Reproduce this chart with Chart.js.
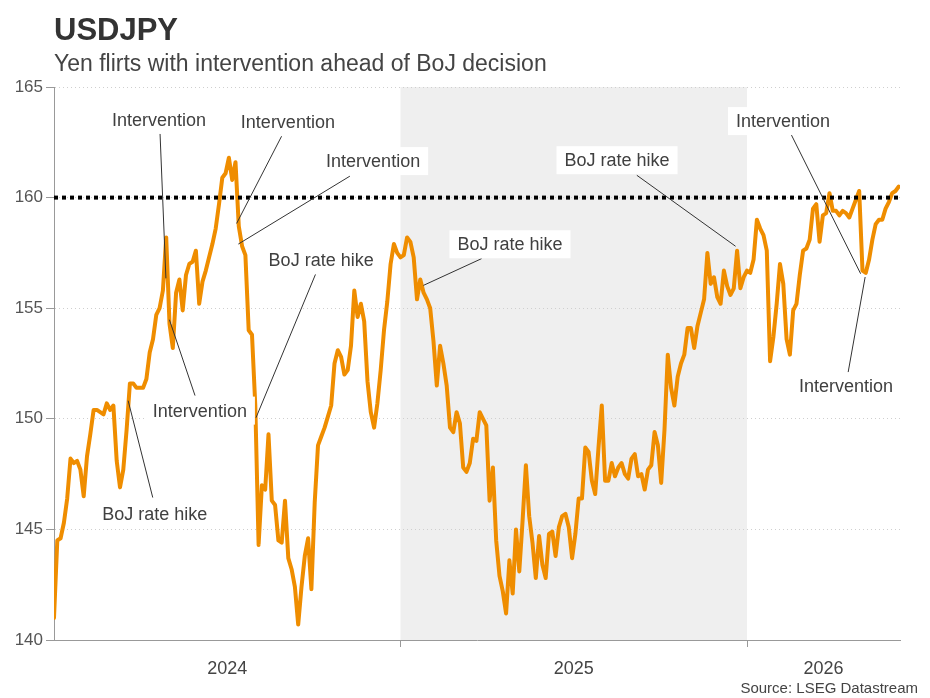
<!DOCTYPE html>
<html><head><meta charset="utf-8">
<script src="https://cdn.jsdelivr.net/npm/chart.js@4/dist/chart.umd.min.js"></script>
<style>html,body{margin:0;padding:0;background:#fff}#wrap{width:930px;height:698px;position:relative}</style>
</head><body><div id="wrap"><canvas id="c" width="930" height="698"></canvas></div>
<script>
const titleText = 'USDJPY';
const subtitleText = 'Yen flirts with intervention ahead of BoJ decision';
const sourceText = 'Source: LSEG Datastream';

const startYear = 2024;
const pointsPerYear = 105;
const usdjpy = [
 141.0,144.5,144.6,145.3,146.4,148.2,148.0,148.1,147.7,146.5,
 148.3,149.3,150.4,150.4,150.3,150.2,150.7,150.4,150.6,148.1,
 146.9,147.7,149.5,151.6,151.6,151.4,151.4,151.4,151.8,153.0,
 153.6,154.7,155.0,155.8,158.2,154.3,153.2,155.7,156.3,154.9,
 156.5,157.0,157.1,157.6,155.2,156.2,156.7,157.3,157.9,158.6,
 159.7,160.9,161.1,161.8,160.8,161.6,158.7,157.8,157.4,154.0,
 153.8,150.6,144.3,147.0,146.8,149.3,146.3,146.1,144.5,144.4,
 146.3,143.7,143.2,142.4,140.7,142.4,143.8,144.6,142.3,146.2,
 148.8,149.2,149.6,150.1,150.6,152.5,153.1,152.8,152.0,152.2,
 153.3,155.8,154.6,155.2,154.4,151.7,150.3,149.6,150.7,152.2,
 154.0,155.3,157.0,157.9,157.5,157.3,157.4,158.2,158.0,157.3,
 155.4,156.3,155.7,155.4,155.0,153.5,151.5,153.3,152.5,151.5,
 149.6,149.4,150.3,149.8,147.8,147.6,148.0,149.1,149.0,150.3,
 150.0,149.7,146.3,147.8,144.5,142.9,142.2,141.2,143.6,142.1,
 145.0,143.1,145.4,147.9,145.6,144.4,142.8,144.7,143.4,142.8,
 144.8,144.9,143.8,145.1,145.6,145.7,145.1,143.7,144.8,146.4,
 146.4,148.7,148.5,147.2,146.6,148.7,150.6,147.2,147.2,148.0,
 147.4,147.8,148.0,147.5,147.3,148.2,148.4,147.4,147.5,146.8,
 147.7,147.9,149.4,148.8,147.1,149.5,152.9,151.4,150.6,151.9,
 152.5,152.9,154.1,154.1,153.2,154.2,154.8,155.4,157.5,156.1,
 156.4,155.5,155.2,156.7,156.0,155.6,155.9,157.6,155.9,156.4,
 156.7,156.6,157.2,159.0,158.6,158.3,157.6,152.6,153.7,155.2,
 157.0,156.1,153.6,152.9,154.9,155.2,156.5,157.6,157.7,158.1,
 159.5,159.7,158.0,159.2,159.3,160.2,159.4,159.4,159.2,159.4,
 159.3,159.1,159.5,159.9,160.3,156.7,156.6,157.2,158.1,158.8,
 159.0,159.0,159.5,159.8,160.2,160.3,160.5
];
const yTicks = [140, 145, 150, 155, 160, 165];
const yearStarts = [2024, 2025, 2026];
const yearLabels = ['2024', '2025', '2026'];
const thresholdLevel = 160;
const shadedRange = [2025, 2026];
const axisEndYear = 2026.4416;

// annotation texts, label centre and leader line (all in data units: year, yen)
const annTexts = ['Intervention','Intervention','Intervention','BoJ rate hike','Intervention','BoJ rate hike','BoJ rate hike','BoJ rate hike','Intervention','Intervention'];
const annLabelX = [2024.303,2024.675,2024.921,2024.771,2024.421,2024.291,2025.316,2025.625,2026.104,2026.286];
const annLabelY = [163.51,163.41,161.65,157.16,150.37,145.71,157.89,161.69,163.46,151.46];
const annFromX  = [2024.306,2024.657,2024.854,2024.756,2024.407,2024.285,2025.234,2025.682,2026.126,2026.292];
const annFromY  = [162.92,162.78,160.97,156.58,151.05,146.44,157.24,161.01,162.90,152.11];
const annToX    = [2024.323,2024.527,2024.532,2024.583,2024.333,2024.214,2025.066,2025.967,2026.328,2026.341];
const annToY    = [156.35,158.83,157.90,150.05,154.48,150.82,156.03,157.80,156.56,156.41];

const FONT = "'Liberation Sans', Arial, Helvetica, sans-serif";
const xMin = startYear;
const xMax = axisEndYear;
const seriesPoints = usdjpy.map((v, i) => ({x: startYear + i / pointsPerYear, y: v}));

const shadePlugin = {
  id: 'shade',
  beforeDraw(chart) {
    const {ctx, chartArea: a, scales: {x}} = chart;
    const x0 = x.getPixelForValue(shadedRange[0]);
    const x1 = x.getPixelForValue(shadedRange[1]);
    ctx.save();
    ctx.fillStyle = '#efefef';
    ctx.fillRect(x0, a.top, x1 - x0, a.bottom - a.top);
    ctx.restore();
  },
  afterDraw(chart) {
    const {ctx, chartArea: a, scales: {x}} = chart;
    ctx.save();
    ctx.strokeStyle = '#999';
    ctx.lineWidth = 1;
    yearStarts.forEach(yr => {
      if (yr <= xMin || yr >= xMax) return;
      const px = Math.round(x.getPixelForValue(yr)) + 0.5;
      ctx.beginPath();
      ctx.moveTo(px, a.bottom);
      ctx.lineTo(px, a.bottom + 7);
      ctx.stroke();
    });
    ctx.restore();
  }
};

const annotationPlugin = {
  id: 'annots',
  afterDatasetsDraw(chart) {
    const {ctx, scales: {x, y}} = chart;
    ctx.save();
    ctx.font = '18px ' + FONT;
    ctx.textAlign = 'center';
    ctx.textBaseline = 'middle';
    annTexts.forEach((t, i) => {
      ctx.strokeStyle = '#333';
      ctx.lineWidth = 1;
      ctx.beginPath();
      ctx.moveTo(x.getPixelForValue(annFromX[i]), y.getPixelForValue(annFromY[i]));
      ctx.lineTo(x.getPixelForValue(annToX[i]), y.getPixelForValue(annToY[i]));
      ctx.stroke();
    });
    annTexts.forEach((t, i) => {
      const cx = x.getPixelForValue(annLabelX[i]);
      const cy = y.getPixelForValue(annLabelY[i]);
      const w = ctx.measureText(t).width + 16;
      ctx.fillStyle = '#fff';
      ctx.fillRect(cx - w / 2, cy - 14, w, 28);
      ctx.fillStyle = '#404040';
      ctx.fillText(t, cx, cy + 1);
    });
    ctx.restore();
  }
};

const textPlugin = {
  id: 'texts',
  afterDraw(chart) {
    const {ctx, chartArea: a} = chart;
    ctx.save();
    ctx.textAlign = 'left';
    ctx.textBaseline = 'alphabetic';
    ctx.fillStyle = '#333';
    ctx.font = 'bold 31px ' + FONT;
    ctx.fillText(titleText, a.left, 40);
    ctx.fillStyle = '#444';
    ctx.font = '23px ' + FONT;
    ctx.fillText(subtitleText, a.left, 71);
    ctx.fillStyle = '#444';
    ctx.font = '15px ' + FONT;
    ctx.textAlign = 'right';
    ctx.fillText(sourceText, 918, 693);
    ctx.restore();
  }
};

new Chart(document.getElementById('c').getContext('2d'), {
  type: 'line',
  data: {
    datasets: [
      {
        label: 'level',
        data: [{x: xMin, y: thresholdLevel}, {x: xMax, y: thresholdLevel}],
        borderColor: '#000', borderWidth: 4, borderDash: [4, 4],
        pointRadius: 0, order: 0, borderCapStyle: 'butt'
      },
      {
        label: 'USDJPY',
        data: seriesPoints,
        borderColor: '#ef8d00', borderWidth: 4,
        pointRadius: 0, tension: 0, order: 1,
        borderJoinStyle: 'round', borderCapStyle: 'round'
      }
    ]
  },
  options: {
    responsive: false,
    animation: false,
    events: [],
    layout: {padding: {top: 87, right: 30, left: 0, bottom: 0}},
    plugins: {legend: {display: false}, tooltip: {enabled: false}, title: {display: false}},
    scales: {
      x: {
        type: 'linear', min: xMin, max: xMax,
        afterBuildTicks: s => {
          s.ticks = yearStarts.map((yr) => ({value: (Math.max(yr, xMin) + Math.min(yr + 1, xMax)) / 2}));
        },
        ticks: {
          callback: (v, i) => yearLabels[i],
          font: {size: 18, family: FONT}, color: '#444',
          padding: 10, maxRotation: 0, autoSkip: false
        },
        grid: {display: false},
        border: {display: true, color: '#999', width: 1},
        afterFit: s => { s.height = 58; }
      },
      y: {
        min: 140, max: 165,
        afterBuildTicks: s => { s.ticks = yTicks.map(v => ({value: v})); },
        ticks: {font: {size: 17, family: FONT}, color: '#555', padding: 3},
        grid: {color: '#cfcfcf', lineWidth: 1, tickLength: 8, tickColor: '#999', drawTicks: true},
        border: {display: true, color: '#999', width: 1, dash: [1, 3]},
        afterFit: s => { s.width = 54; }
      }
    }
  },
  plugins: [shadePlugin, annotationPlugin, textPlugin]
});
</script>
</body></html>
